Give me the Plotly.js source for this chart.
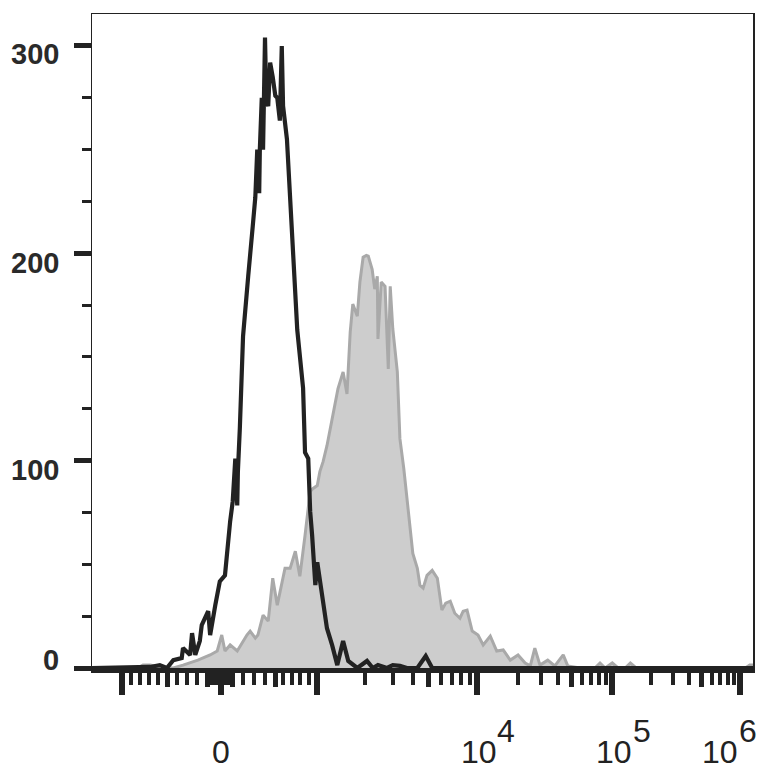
<!DOCTYPE html>
<html><head><meta charset="utf-8">
<script src="https://cdn.plot.ly/plotly-3.0.1.min.js"></script>
<style>html,body{margin:0;padding:0;background:#fff}</style>
</head><body><div id="chart" style="width:764px;height:780px"></div>
<script>
// Histogram data: x = display channel (0..1024), y = event count
const grayChannel = [0, 71, 79, 90, 105, 126, 141, 164, 183, 194, 201, 206, 214, 225, 240, 245, 253, 257, 265, 273, 280, 287, 299, 307, 315, 322, 330, 338, 342, 349, 353, 358, 364, 369, 374, 381, 389, 395, 400, 404, 411, 415, 420, 425, 428, 434, 438, 442, 443, 448, 454, 459, 462, 466, 473, 477, 483, 488, 493, 497, 504, 508, 513, 519, 527, 535, 542, 548, 555, 562, 570, 575, 581, 589, 598, 606, 617, 627, 637, 648, 660, 671, 679, 686, 694, 706, 717, 730, 737, 756, 779, 787, 795, 806, 815, 826, 834, 843, 942, 1012, 1019, 1024];
const grayCount = [0, 0, 1.4, 1.4, 0.5, 0, 1.4, 3.8, 6.3, 8.2, 15.9, 8.2, 11.1, 8.2, 15.9, 17.8, 14.4, 15.9, 25.5, 22.6, 43.3, 30.3, 48.1, 48.1, 56.3, 44.2, 63.9, 85.1, 86.5, 88, 94.7, 99.5, 107.2, 115.4, 123.6, 134.6, 142.8, 132.2, 162, 175.5, 169.7, 186.1, 198.1, 199, 198.6, 192.3, 182.7, 188.9, 158.7, 186.1, 184.1, 144.2, 184.1, 163.5, 142.8, 110.6, 96.2, 81.7, 65.9, 55.3, 48.1, 39.9, 38.5, 44.7, 47.1, 43.3, 27.9, 31.3, 32.2, 26.4, 24, 27.4, 27.9, 17.8, 15.9, 11.1, 15.4, 8.2, 8.7, 3.8, 6.3, 2.4, 1, 9.6, 1.4, 3.8, 1, 6.3, 1, 0, 0, 2.4, 0, 2.4, 0, 0, 2.4, 0, 0, 0, 1.4, 1.4];

const blackChannel = [0, 74, 90, 105, 116, 126, 139, 141, 152, 155, 160, 167, 170, 180, 183, 191, 198, 206, 209, 214, 218, 222, 225, 226, 229, 234, 242, 245, 249, 253, 256, 259, 260, 263, 265, 268, 270, 273, 276, 280, 284, 287, 291, 294, 296, 302, 307, 311, 318, 327, 330, 335, 338, 341, 346, 349, 356, 364, 372, 380, 389, 397, 411, 426, 435, 443, 457, 466, 477, 488, 504, 517, 527, 555, 1024];
const blackCount = [0, 0, 0.5, 1.4, 0, 3.8, 4.8, 9.6, 6.3, 16.8, 6.3, 13, 20.7, 27.4, 15.9, 30.3, 41.8, 44.7, 56.3, 70.7, 80.3, 101, 78.4, 94.7, 115.4, 160, 189, 202, 213, 227, 250, 229, 250, 275, 250, 304, 274, 271, 292, 285, 276, 275, 264, 300, 271, 255, 227, 196, 163, 135, 104, 101, 75.5, 64, 40, 51, 35, 19.2, 11, 1.4, 13, 3.4, 0, 3.4, 0, 1.4, 0, 1.4, 1, 0, 0, 5.8, 0, 0, 0];

// Axis ticks
const yTickValues = [0, 100, 200, 300];
const yTickLabels = ['0', '100', '200', '300'];
const xMajorValues = [-1000, 0, 1000, 1e4, 1e5, 1e6];
const xLabelValues = [0, 1e4, 1e5, 1e6];
const xLabelBase = ['0', '10', '10', '10'];
const xLabelExponent = ['', '4', '5', '6'];
const xMediumValues = [-500, -100, 100, 500, 5e3, 5e4, 5e5];

// Display (biexponential-like) scale: fluorescence value -> channel
const linAnchors = [[-1000, 46.5], [-500, 116.2], [-100, 178.2], [0, 199.8], [100, 218.4], [500, 283.5], [1000, 348.6]];
const logAnchors = [[3, 348.6], [4, 596.4], [5, 805.6], [6, 1003.9]];
function toChannel(v) {
  if (v <= 1000) {
    for (let i = 0; i < linAnchors.length - 1; i++) {
      const [v0, c0] = linAnchors[i], [v1, c1] = linAnchors[i + 1];
      if (v <= v1 || i === linAnchors.length - 2) return c0 + (v - v0) / (v1 - v0) * (c1 - c0);
    }
  }
  const L = Math.log10(v);
  for (let i = 0; i < logAnchors.length - 1; i++) {
    const [l0, c0] = logAnchors[i], [l1, c1] = logAnchors[i + 1];
    if (L <= l1 + 1e-9 || i === logAnchors.length - 2) return c0 + (L - l0) / (l1 - l0) * (c1 - c0);
  }
}
const xMinorValues = [];
for (const s of [-1, 1]) {
  for (let k = 1; k <= 9; k++) xMinorValues.push(s * k * 10);
  for (let k = 2; k <= 9; k++) if (k !== 5) xMinorValues.push(s * k * 100);
}
for (const d of [3, 4, 5]) for (let k = 2; k <= 9; k++) if (k !== 5) xMinorValues.push(k * Math.pow(10, d));

const INK = '#222222';
const FONT = 'Liberation Sans, Arial, sans-serif';
const XFONT = 'Liberation Sans Narrow, Arial Narrow, Liberation Sans, Arial, sans-serif';

// label placement (pixel nudges, as in the source figure)
const xBaseShift = [0, 2, 2, -20];
const xExpShift = [0, 29, 30, 8];
const yLabelShift = [8, -9, -10, -8];

const annotations = [];
xLabelValues.forEach((v, i) => {
  annotations.push({x: toChannel(v), xref: 'x', y: -0.128, yref: 'paper', text: xLabelBase[i],
    showarrow: false, xanchor: 'center', yanchor: 'middle', xshift: xBaseShift[i],
    font: {family: XFONT, size: 32, color: INK}});
  if (xLabelExponent[i]) annotations.push({x: toChannel(v), xref: 'x', y: -0.097, yref: 'paper',
    text: xLabelExponent[i], showarrow: false, xanchor: 'center', yanchor: 'middle',
    xshift: xExpShift[i], font: {family: XFONT, size: 32, color: INK}});
});
yTickValues.forEach((v, i) => {
  annotations.push({x: 0, xref: 'paper', y: v, yref: 'y', text: yTickLabels[i], showarrow: false,
    xanchor: 'right', yanchor: 'middle', xshift: -31, yshift: yLabelShift[i],
    font: {family: FONT, size: 29, color: '#2a2a2a', weight: 'bold'}});
});

const traces = [
  {x: grayChannel, y: grayCount, type: 'scatter', mode: 'lines', fill: 'tozeroy',
   fillcolor: '#cdcdcd', line: {color: '#a9a9a9', width: 3}, hoverinfo: 'skip'},
  {x: blackChannel, y: blackCount, type: 'scatter', mode: 'lines',
   line: {color: INK, width: 4.2}, hoverinfo: 'skip'},
  {x: [], y: [], xaxis: 'x2', type: 'scatter', mode: 'lines', hoverinfo: 'skip'},
  {x: [], y: [], xaxis: 'x3', type: 'scatter', mode: 'lines', hoverinfo: 'skip'}
];
const xRange = [0, 1024];
const layout = {
  width: 764, height: 780,
  margin: {l: 92, r: 11, t: 14, b: 112},
  paper_bgcolor: '#ffffff', plot_bgcolor: '#ffffff',
  showlegend: false,
  font: {family: FONT, color: INK},
  annotations: annotations,
  xaxis: {
    range: xRange, showgrid: false, zeroline: false,
    showline: true, linecolor: INK, linewidth: 5,
    ticks: 'outside', tickmode: 'array',
    tickvals: xMajorValues.map(toChannel), showticklabels: false,
    ticklen: 22, tickwidth: 6, tickcolor: INK,
    minor: {tickmode: 'array', tickvals: xMinorValues.map(toChannel), ticks: 'outside',
            ticklen: 12, tickwidth: 4, tickcolor: INK, showgrid: false}
  },
  xaxis2: {overlaying: 'x', side: 'top', anchor: 'y', range: xRange, showline: true,
           linecolor: INK, linewidth: 1.5, ticks: '', showticklabels: false,
           showgrid: false, zeroline: false},
  xaxis3: {overlaying: 'x', side: 'bottom', anchor: 'y', range: xRange, showline: false,
           tickmode: 'array', tickvals: xMediumValues.map(toChannel), ticks: 'outside',
           ticklen: 18, tickwidth: 5, tickcolor: INK, showticklabels: false,
           showgrid: false, zeroline: false},
  yaxis: {
    range: [0, 315.4], showgrid: false, zeroline: false,
    showline: true, mirror: true, linecolor: INK, linewidth: 1.5,
    ticks: 'outside', tickmode: 'array', tickvals: yTickValues, showticklabels: false,
    ticklen: 17, tickwidth: 5, tickcolor: INK,
    minor: {dtick: 25, ticks: 'outside', ticklen: 9, tickwidth: 3, tickcolor: INK, showgrid: false}
  }
};
Plotly.newPlot('chart', traces, layout, {displayModeBar: false, staticPlot: true});
</script></body></html>
